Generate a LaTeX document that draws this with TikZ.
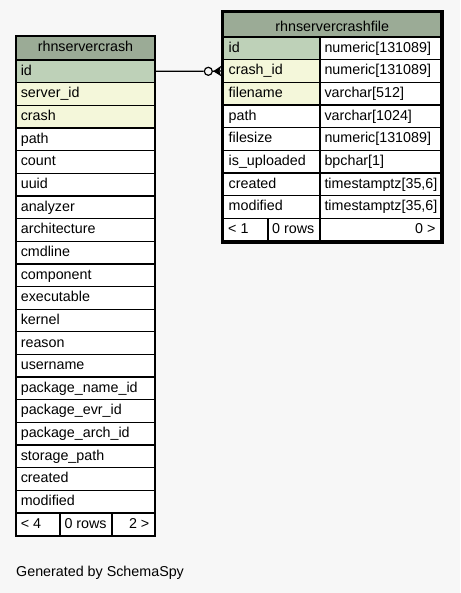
\documentclass[tikz,border=0pt]{standalone}
\usepackage{fontspec}
\setmainfont{Liberation Sans}
\usetikzlibrary{calc}
\definecolor{bgc}{HTML}{F7F7F7}
\definecolor{headc}{HTML}{9BAB96}
\definecolor{pkc}{HTML}{BED1B8}
\definecolor{idxc}{HTML}{F4F7DA}
\begin{document}
\begin{tikzpicture}[x=1pt,y=-1pt,font=\fontsize{14.3}{16}\selectfont,
  cellbox/.style={draw=black,line width=1.3pt,anchor=north west,inner sep=0pt,outer sep=0pt},
  txt/.style={anchor=base west,inner sep=0pt},
  rtxt/.style={anchor=base east,inner sep=0pt},
  ctxt/.style={anchor=base,inner sep=0pt}]
\fill[bgc] (0,0) rectangle (460,593);
\useasboundingbox (0,0) rectangle (460,593);

% ---------- left table: rhnservercrash ----------
\node[cellbox,fill=headc,minimum width=139pt,minimum height=24pt] (LH) at (16,36) {};
\node[ctxt] (LHt) at ($(LH.north)+(0,16)$) {rhnservercrash};
\foreach \nm/\col [count=\i from 0] in {id/pkc,server\_id/idxc,crash/idxc,path/white,count/white,uuid/white,analyzer/white,architecture/white,cmdline/white,component/white,executable/white,kernel/white,reason/white,username/white,package\_name\_id/white,package\_evr\_id/white,package\_arch\_id/white,storage\_path/white,created/white,modified/white}{
  \node[cellbox,fill=\col,minimum width=139pt,minimum height=22.65pt] (L\i) at (16,60+\i*22.65) {};
  \node[txt] (Lt\i) at ($(L\i.north west)+(4.6,15.2)$) {\nm};
}
\node[cellbox,fill=white,minimum width=44pt,minimum height=23pt] (LF1) at (16,513) {};
\node[cellbox,fill=white,minimum width=52pt,minimum height=23pt] (LF2) at (60,513) {};
\node[cellbox,fill=white,minimum width=43pt,minimum height=23pt] (LF3) at (112,513) {};
\node[txt] (LF1t) at ($(LF1.north west)+(4.6,15.2)$) {< 4};
\node[txt] (LF2t) at ($(LF2.north west)+(4.3,15.2)$) {0 rows};
\node[rtxt] (LF3t) at ($(LF3.north east)+(-5.5,15.2)$) {2 >};

% ---------- right table: rhnservercrashfile ----------
\node[cellbox,fill=headc,minimum width=217.5pt,minimum height=24.5pt] (RH) at (223.5,12.5) {};
\node[ctxt] (RHt) at ($(RH.north)+(0,18.8)$) {rhnservercrashfile};
\foreach \nm/\col/\ty [count=\i from 0] in {id/pkc/{numeric[131089]},crash\_id/idxc/{numeric[131089]},filename/idxc/{varchar[512]},path/white/{varchar[1024]},filesize/white/{numeric[131089]},is\_uploaded/white/{bpchar[1]},created/white/{timestamptz[35,6]},modified/white/{timestamptz[35,6]}}{
  \node[cellbox,fill=\col,minimum width=96.5pt,minimum height=22.67pt] (R\i) at (223.5,37+\i*22.67) {};
  \node[cellbox,fill=white,minimum width=121pt,minimum height=22.67pt] (T\i) at (320,37+\i*22.67) {};
  \node[txt] (Rt\i) at ($(R\i.north west)+(5,15.2)$) {\nm};
  \node[txt] (Tt\i) at ($(T\i.north west)+(4.3,15.2)$) {\ty};
}
\node[cellbox,fill=white,minimum width=44.5pt,minimum height=22.6pt] (RF1) at (223.5,218.4) {};
\node[cellbox,fill=white,minimum width=52pt,minimum height=22.6pt] (RF2) at (268,218.4) {};
\node[cellbox,fill=white,minimum width=121pt,minimum height=22.6pt] (RF3) at (320,218.4) {};
\node[txt] (RF1t) at ($(RF1.north west)+(4.5,15.2)$) {< 1};
\node[txt] (RF2t) at ($(RF2.north west)+(4,15.2)$) {0 rows};
\node[rtxt] (RF3t) at ($(RF3.north east)+(-5.3,15.2)$) {0 >};
\draw[line width=2.6pt] (222.2,11.2) rectangle (442.5,242.9);

% ---------- relationship ----------
\node[circle,draw=black,fill=bgc,line width=1.2pt,minimum size=8pt,inner sep=0pt] (odot) at (208.3,71.3) {};
\draw[line width=1.2pt] (L0.east) -- (odot.west);
\coordinate (crowtip) at ($(odot.east)+(0.3,0)$);
\coordinate (crowend) at ($(R1.west)+(-2.3,0)$);
\fill[black] (crowtip) -- ($(crowend)+(0,-5.2)$) -- ($(crowend)+(-1.8,0)$) -- ($(crowend)+(0,5.2)$) -- cycle;
\draw[line width=1.2pt] (crowtip) -- (crowend);

\node[txt] (gen) at (16,576) {Generated by SchemaSpy};
\end{tikzpicture}
\end{document}
